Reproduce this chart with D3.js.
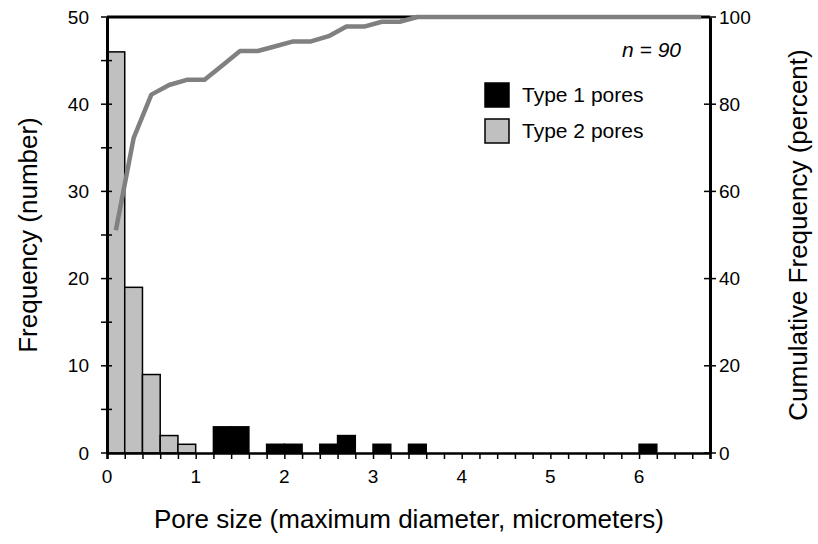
<!DOCTYPE html>
<html>
<head>
<meta charset="utf-8">
<script src="https://cdn.jsdelivr.net/npm/d3@7"></script>
<style>
  body { margin: 0; background: #fff; }
  svg text { font-family: "Liberation Sans", Arial, sans-serif; fill: #000; }
</style>
</head>
<body>
<div id="chart"></div>
<script>
// histogram bins are 0.2 micrometers wide, keyed by lower edge
var binWidth = 0.2;
var type2Bins = [0, 0.2, 0.4, 0.6, 0.8];
var type2Counts = [46, 19, 9, 2, 1];
var type1Bins = [1.2, 1.4, 1.8, 2.0, 2.4, 2.6, 3.0, 3.4, 6.0];
var type1Counts = [3, 3, 1, 1, 1, 2, 1, 1, 1];

// cumulative frequency (bin centres, percent)
var cumX = [0.1, 0.3, 0.5, 0.7, 0.9, 1.1, 1.3, 1.5, 1.7, 1.9, 2.1, 2.3, 2.5, 2.7, 2.9, 3.1, 3.3, 3.5,
            3.7, 3.9, 4.1, 4.3, 4.5, 4.7, 4.9, 5.1, 5.3, 5.5, 5.7, 5.9, 6.1, 6.3, 6.5, 6.7];
var cumPct = [51.1, 72.2, 82.2, 84.4, 85.6, 85.6, 88.9, 92.2, 92.2, 93.3, 94.4, 94.4, 95.6, 97.8, 97.8, 98.9, 98.9, 100,
              100, 100, 100, 100, 100, 100, 100, 100, 100, 100, 100, 100, 100, 100, 100, 100];

var xLabels = [0, 1, 2, 3, 4, 5, 6];
var leftLabels = [0, 10, 20, 30, 40, 50];
var rightLabels = [0, 20, 40, 60, 80, 100];

var W = 818, H = 544;
var m = {left: 107, right: 108, top: 17, bottom: 91};
var w = W - m.left - m.right, h = H - m.top - m.bottom;

var svg = d3.select("#chart").append("svg")
    .attr("width", W).attr("height", H);
var g = svg.append("g").attr("transform", "translate(" + m.left + "," + m.top + ")");

var x = d3.scaleLinear().domain([0, 6.8]).range([0, w]);
var y = d3.scaleLinear().domain([0, 50]).range([h, 0]);
var y2 = d3.scaleLinear().domain([0, 100]).range([h, 0]);

var type2 = type2Bins.map(function(b, i) { return {x0: b, n: type2Counts[i]}; });
var type1 = type1Bins.map(function(b, i) { return {x0: b, n: type1Counts[i]}; });

g.selectAll("rect.t2").data(type2).enter().append("rect")
    .attr("class", "t2")
    .attr("x", function(d) { return x(d.x0); })
    .attr("width", function(d) { return x(d.x0 + binWidth) - x(d.x0); })
    .attr("y", function(d) { return y(d.n); })
    .attr("height", function(d) { return h - y(d.n); })
    .attr("fill", "#c0c0c0").attr("stroke", "#000").attr("stroke-width", 1.5);

g.selectAll("rect.t1").data(type1).enter().append("rect")
    .attr("class", "t1")
    .attr("x", function(d) { return x(d.x0); })
    .attr("width", function(d) { return x(d.x0 + binWidth) - x(d.x0); })
    .attr("y", function(d) { return y(d.n); })
    .attr("height", function(d) { return h - y(d.n); })
    .attr("fill", "#000").attr("stroke", "#000").attr("stroke-width", 1.5);

// top frame line
g.append("line").attr("x1", 0).attr("x2", w).attr("y1", 0).attr("y2", 0)
    .attr("stroke", "#000").attr("stroke-width", 3);

// x axis, minor ticks every 0.2
var xTicks = d3.range(0, 35).map(function(i) { return +(i * 0.2).toFixed(1); });
var xAxis = g.append("g").attr("transform", "translate(0," + h + ")")
    .call(d3.axisBottom(x).tickValues(xTicks).tickSize(6).tickFormat(""));
xAxis.select(".domain").attr("stroke-width", 2.5);
xAxis.selectAll(".tick line").attr("stroke-width", 1.5);
g.selectAll("text.xl").data(xLabels).enter().append("text")
    .attr("class", "xl")
    .attr("x", function(d) { return x(d); })
    .attr("y", h + 30)
    .attr("text-anchor", "middle")
    .style("font-size", "19px")
    .text(function(d) { return d; });

// left axis
var lTicks = d3.range(0, 55, 5);
var lAxis = g.append("g")
    .call(d3.axisLeft(y).tickValues(lTicks).tickSize(0).tickFormat(""));
lAxis.select(".domain").attr("stroke-width", 3);
g.selectAll("line.lt").data(lTicks).enter().append("line")
    .attr("class", "lt")
    .attr("x1", -6).attr("x2", 5)
    .attr("y1", function(d) { return y(d); }).attr("y2", function(d) { return y(d); })
    .attr("stroke", "#000").attr("stroke-width", 1.5);
g.selectAll("text.ll").data(leftLabels).enter().append("text")
    .attr("class", "ll")
    .attr("x", -18)
    .attr("y", function(d) { return y(d); })
    .attr("dy", "0.35em")
    .attr("text-anchor", "end")
    .style("font-size", "19px")
    .text(function(d) { return d; });

// right axis
var rAxis = g.append("g").attr("transform", "translate(" + w + ",0)")
    .call(d3.axisRight(y2).tickValues(rightLabels).tickSize(0).tickFormat(""));
rAxis.select(".domain").attr("stroke-width", 3);
g.selectAll("line.rt").data(rightLabels).enter().append("line")
    .attr("class", "rt")
    .attr("x1", w - 6).attr("x2", w + 6)
    .attr("y1", function(d) { return y2(d); }).attr("y2", function(d) { return y2(d); })
    .attr("stroke", "#000").attr("stroke-width", 1.5);
g.selectAll("text.rl").data(rightLabels).enter().append("text")
    .attr("class", "rl")
    .attr("x", w + 9)
    .attr("y", function(d) { return y2(d); })
    .attr("dy", "0.35em")
    .attr("text-anchor", "start")
    .style("font-size", "19px")
    .text(function(d) { return d; });

// cumulative line
var line = d3.line()
    .x(function(d) { return x(d[0]); })
    .y(function(d) { return y2(d[1]); });
g.append("path")
    .datum(cumX.map(function(v, i) { return [v, cumPct[i]]; }))
    .attr("d", line)
    .attr("fill", "none")
    .attr("stroke", "#808080")
    .attr("stroke-width", 4.5)
    .attr("stroke-linejoin", "round");

// axis titles
svg.append("text")
    .attr("x", 409).attr("y", 528)
    .attr("text-anchor", "middle")
    .style("font-size", "26px")
    .text("Pore size (maximum diameter, micrometers)");
svg.append("text")
    .attr("transform", "translate(37," + (m.top + h / 2) + ") rotate(-90)")
    .attr("text-anchor", "middle")
    .style("font-size", "26px")
    .text("Frequency (number)");
svg.append("text")
    .attr("transform", "translate(807," + (m.top + h / 2) + ") rotate(-90)")
    .attr("text-anchor", "middle")
    .style("font-size", "26px")
    .text("Cumulative Frequency (percent)");

// n label
svg.append("text")
    .attr("x", 681).attr("y", 57)
    .attr("text-anchor", "end")
    .style("font-size", "21px")
    .style("font-style", "italic")
    .text("n = 90");

// legend
var legend = [
    {label: "Type 1 pores", fill: "#000"},
    {label: "Type 2 pores", fill: "#c0c0c0"}
];
var lg = svg.append("g").attr("transform", "translate(485,83)");
lg.selectAll("rect").data(legend).enter().append("rect")
    .attr("x", 0).attr("y", function(d, i) { return i * 36; })
    .attr("width", 24).attr("height", 24)
    .attr("fill", function(d) { return d.fill; })
    .attr("stroke", "#000").attr("stroke-width", 1.5);
lg.selectAll("text").data(legend).enter().append("text")
    .attr("x", 37).attr("y", function(d, i) { return i * 36 + 12; })
    .attr("dy", "0.35em")
    .style("font-size", "21px")
    .text(function(d) { return d.label; });
</script>
</body>
</html>
